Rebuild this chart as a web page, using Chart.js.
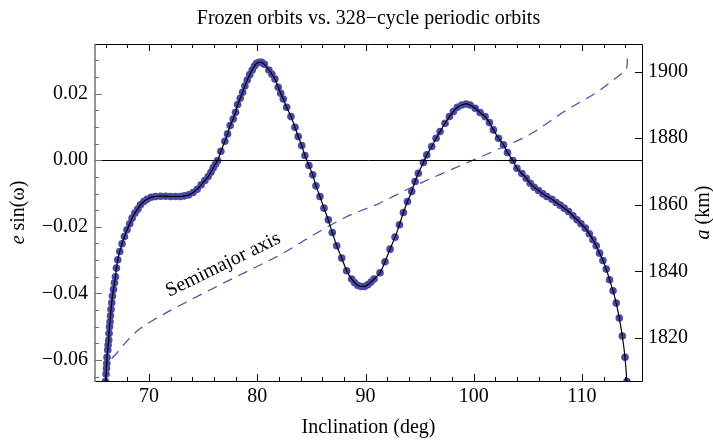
<!DOCTYPE html>
<html>
<head>
<meta charset="utf-8">
<script src="https://cdn.jsdelivr.net/npm/chart.js@4.4.1/dist/chart.umd.min.js"></script>
<style>
  html, body { margin: 0; padding: 0; background: #fff; }
  #wrap { width: 713px; height: 441px; }
</style>
</head>
<body>
<div id="wrap"><canvas id="c" width="713" height="441"></canvas></div>
<script>
// ── Data ──────────────────────────────────────────────────────
// periodic orbits (dots) / frozen-orbit curve: inclination (deg) vs e·sin(ω)
const INCL = [
  65.97, 66.02, 66.06, 66.09, 66.11, 66.18, 66.21, 66.27, 66.30, 66.34,
  66.39, 66.43, 66.48, 66.55, 66.61, 66.71, 66.80, 66.89, 66.98, 67.10,
  67.29, 67.50, 67.72, 67.96, 68.21, 68.43, 68.68, 68.95, 69.20, 69.51,
  69.81, 70.19, 70.59, 71.05, 71.52, 71.98, 72.44, 72.90, 73.27, 73.67,
  74.07, 74.44, 74.81, 75.15, 75.46, 75.71, 75.92, 76.13, 76.33, 76.63,
  77.00, 77.25, 77.49, 77.77, 77.99, 78.18, 78.42, 78.64, 78.85, 79.07,
  79.30, 79.53, 79.74, 79.94, 80.17, 80.40, 80.65, 81.07, 81.35, 81.63,
  81.93, 82.16, 82.40, 82.71, 83.11, 83.48, 83.78, 84.10, 84.40, 84.77,
  85.12, 85.42, 85.79, 86.16, 86.56, 86.93, 87.34, 87.80, 88.26, 88.72,
  89.00, 89.30, 89.60, 89.90, 90.20, 90.50, 90.79, 91.34, 91.80, 92.27,
  92.73, 93.13, 93.50, 93.87, 94.27, 94.58, 94.88, 95.35, 95.66, 96.12,
  96.52, 96.89, 97.35, 97.75, 98.12, 98.49, 98.90, 99.30, 99.67, 100.13,
  100.59, 101.05, 101.45, 101.82, 102.29, 102.75, 103.12, 103.62, 103.99, 104.45,
  104.85, 105.22, 105.59, 105.99, 106.39, 106.76, 107.22, 107.62, 107.99, 108.36,
  108.76, 109.17, 109.54, 109.91, 110.31, 110.68, 111.02, 111.32, 111.63, 111.94,
  112.25, 112.55, 112.87, 113.17, 113.45, 113.73, 113.98, 114.16
];
const ESINW = [
  -0.0665, -0.0642, -0.0625, -0.0610, -0.0592, -0.0570, -0.0555, -0.0540, -0.0520, -0.0500,
  -0.0485, -0.0467, -0.0448, -0.0428, -0.0408, -0.0388, -0.0368, -0.0350, -0.0324, -0.0299,
  -0.0274, -0.0251, -0.0229, -0.0209, -0.0191, -0.0174, -0.0159, -0.0147, -0.0134, -0.0124,
  -0.0117, -0.0111, -0.0109, -0.0108, -0.0108, -0.0109, -0.0109, -0.0109, -0.0107, -0.0104,
  -0.0097, -0.0087, -0.0074, -0.0061, -0.0049, -0.0036, -0.0023, -0.0012, -0.0001, 0.0027,
  0.0057, 0.0079, 0.0104, 0.0124, 0.0144, 0.0167, 0.0186, 0.0204, 0.0223, 0.0241,
  0.0257, 0.0271, 0.0283, 0.0291, 0.0294, 0.0294, 0.0288, 0.0271, 0.0258, 0.0244,
  0.0219, 0.0201, 0.0184, 0.0159, 0.0131, 0.0099, 0.0071, 0.0044, 0.0014, -0.0016,
  -0.0044, -0.0077, -0.0109, -0.0144, -0.0179, -0.0217, -0.0257, -0.0294, -0.0332, -0.0357,
  -0.0368, -0.0376, -0.0379, -0.0379, -0.0374, -0.0366, -0.0357, -0.0338, -0.0305, -0.0267,
  -0.0231, -0.0194, -0.0157, -0.0124, -0.0094, -0.0064, -0.0039, -0.0007, 0.0016, 0.0041,
  0.0066, 0.0086, 0.0111, 0.0131, 0.0146, 0.0159, 0.0166, 0.0169, 0.0166, 0.0156,
  0.0143, 0.0131, 0.0113, 0.0091, 0.0066, 0.0046, 0.0023, -0.0001, -0.0024, -0.0040,
  -0.0054, -0.0069, -0.0081, -0.0091, -0.0101, -0.0109, -0.0117, -0.0127, -0.0135, -0.0144,
  -0.0154, -0.0167, -0.0179, -0.0191, -0.0204, -0.0221, -0.0239, -0.0257, -0.0279, -0.0301,
  -0.0327, -0.0359, -0.0392, -0.0429, -0.0474, -0.0528, -0.0592, -0.0665
];

// semimajor axis (right axis, km)
const SMA_INCL = [66.05, 66.30, 67.00, 67.90, 69.00, 70.40, 73.20, 76.20, 79.30, 82.40,
                  85.20, 88.30, 91.30, 94.40, 97.50, 100.00, 102.10, 105.10, 108.60, 111.70,
                  112.90, 114.00, 114.16, 114.20];
const SMA_KM   = [1809.0, 1812.3, 1815.4, 1818.9, 1822.4, 1825.4, 1830.4, 1835.4, 1840.4, 1845.5,
                  1851.0, 1856.5, 1860.5, 1865.5, 1870.0, 1873.5, 1876.5, 1881.0, 1888.5, 1894.5,
                  1897.5, 1900.3, 1901.5, 1904.0];

// axes
const X_RANGE   = [65, 115.55];
const Y_RANGE   = [-0.0663, 0.0349];
const A_RANGE   = [1807.1, 1908.3];
const X_TICKS   = [70, 80, 90, 100, 110];
const X_MINOR   = [66, 68, 72, 74, 76, 78, 82, 84, 86, 88, 92, 94, 96, 98, 102, 104, 106, 108, 112, 114];
const Y_TICKS   = [-0.06, -0.04, -0.02, 0, 0.02];
const Y_MINOR   = [-0.065, -0.055, -0.05, -0.045, -0.035, -0.03, -0.025, -0.015, -0.01, -0.005,
                   0.005, 0.01, 0.015, 0.025, 0.03];
const A_TICKS   = [1820, 1840, 1860, 1880, 1900];

const TITLE     = 'Frozen orbits vs. 328\u2212cycle periodic orbits';
const X_TITLE   = 'Inclination (deg)';
const CURVE_LBL = 'Semimajor axis';
const LBL_AT    = { x: 76.85, y: -0.0314 };   // where the curve label sits (left-axis units)

// ── Style ─────────────────────────────────────────────────────
const SERIF = '"Liberation Serif", "Times New Roman", serif';
const BLUE  = '#4a4aa6';
const FS    = 20;

const pts = INCL.map((x, i) => ({ x, y: ESINW[i] }));
const sma = SMA_INCL.map((x, i) => ({ x, y: SMA_KM[i] }));

const fmtLeft = v => {
    if (Math.abs(v) < 1e-9) return '0.00';
    return (v < 0 ? '\u2212' : '') + Math.abs(v).toFixed(2);
};

const setTicks = arr => scale => { scale.ticks = arr.map(v => ({ value: v })); };

// frame, inward tick marks, zero line, titles
const decor = {
    id: 'decor',
    afterDatasetsDraw(chart) {
        const { ctx, chartArea: a, scales } = chart;
        const sx = scales.x, sy = scales.y, sa = scales.y2;
        ctx.save();

        // zero line
        const y0 = Math.round(sy.getPixelForValue(0)) + 0.5;
        ctx.strokeStyle = '#000'; ctx.lineWidth = 1;
        ctx.beginPath(); ctx.moveTo(a.left, y0); ctx.lineTo(a.right, y0); ctx.stroke();

        // ticks: bottom & top
        const tick = (x1, y1, x2, y2) => { ctx.moveTo(x1, y1); ctx.lineTo(x2, y2); };
        ctx.strokeStyle = '#000'; ctx.lineWidth = 1;
        ctx.beginPath();
        X_TICKS.forEach(v => {
            const p = Math.round(sx.getPixelForValue(v)) + 0.5;
            tick(p, a.bottom, p, a.bottom - 7);
            tick(p, a.top, p, a.top + 7);
        });
        X_MINOR.forEach(v => {
            const p = Math.round(sx.getPixelForValue(v)) + 0.5;
            tick(p, a.bottom, p, a.bottom - 4);
            tick(p, a.top, p, a.top + 4);
        });
        // right axis majors
        A_TICKS.forEach(v => {
            const p = Math.round(sa.getPixelForValue(v)) + 0.5;
            tick(a.right, p, a.right - 7, p);
        });
        ctx.stroke();

        // frame: top, right, bottom black
        ctx.beginPath();
        ctx.moveTo(a.left, a.top + 0.5); ctx.lineTo(a.right + 0.5, a.top + 0.5);
        ctx.lineTo(a.right + 0.5, a.bottom + 0.5); ctx.lineTo(a.left, a.bottom + 0.5);
        ctx.stroke();

        // left axis in grey, with its ticks
        ctx.strokeStyle = '#6f6f6f'; ctx.lineWidth = 1.5;
        ctx.beginPath();
        ctx.moveTo(a.left, a.top); ctx.lineTo(a.left, a.bottom + 1);
        ctx.stroke();
        ctx.lineWidth = 1;
        ctx.beginPath();
        Y_TICKS.forEach(v => {
            const p = Math.round(sy.getPixelForValue(v)) + 0.5;
            tick(a.left, p, a.left + 7, p);
        });
        Y_MINOR.forEach(v => {
            const p = Math.round(sy.getPixelForValue(v)) + 0.5;
            tick(a.left, p, a.left + 4, p);
        });
        ctx.stroke();

        ctx.fillStyle = '#000';
        ctx.textBaseline = 'alphabetic';

        // main title
        ctx.font = `${FS}px ${SERIF}`;
        ctx.textAlign = 'center';
        ctx.fillText(TITLE, (a.left + a.right) / 2, 24);

        // x title
        ctx.fillText(X_TITLE, (a.left + a.right) / 2, 433);

        // rotated y titles with an italic symbol
        const vTitle = (cx, parts) => {
            ctx.save();
            ctx.translate(cx, (a.top + a.bottom) / 2);
            ctx.rotate(-Math.PI / 2);
            ctx.textAlign = 'left';
            ctx.textBaseline = 'middle';
            let w = 0;
            parts.forEach(p => { ctx.font = `${p.it ? 'italic ' : ''}${FS}px ${SERIF}`; w += ctx.measureText(p.t).width; });
            let x = -w / 2;
            parts.forEach(p => {
                ctx.font = `${p.it ? 'italic ' : ''}${FS}px ${SERIF}`;
                ctx.fillText(p.t, x, 0);
                x += ctx.measureText(p.t).width;
            });
            ctx.restore();
        };
        vTitle(19, [{ t: 'e', it: true }, { t: ' sin(\u03c9)' }]);
        vTitle(704, [{ t: 'a', it: true }, { t: ' (km)' }]);

        // curve label
        ctx.save();
        ctx.translate(sx.getPixelForValue(LBL_AT.x), sy.getPixelForValue(LBL_AT.y));
        ctx.rotate(-26 * Math.PI / 180);
        ctx.font = `${FS}px ${SERIF}`;
        ctx.textAlign = 'center';
        ctx.textBaseline = 'middle';
        ctx.fillText(CURVE_LBL, 0, 0);
        ctx.restore();

        ctx.restore();
    }
};

new Chart(document.getElementById('c'), {
    type: 'scatter',
    data: {
        datasets: [
            {   // smooth frozen-orbit curve, drawn over the dots
                data: pts, showLine: true, pointRadius: 0,
                borderColor: '#000', borderWidth: 1.2,
                cubicInterpolationMode: 'monotone', order: 0,
            },
            {   // periodic orbits
                data: pts, showLine: false, pointRadius: 3.8,
                pointBackgroundColor: BLUE, pointBorderWidth: 0, order: 1,
            },
            {   // semimajor axis
                data: sma, yAxisID: 'y2', showLine: true, pointRadius: 0,
                borderColor: BLUE, borderWidth: 1.2, borderDash: [10, 7],
                cubicInterpolationMode: 'monotone', order: 2,
            },
        ],
    },
    options: {
        responsive: false, animation: false, events: [],
        layout: { padding: { top: 44, left: 0, right: 0, bottom: 0 } },
        plugins: { legend: { display: false }, tooltip: { enabled: false }, title: { display: false } },
        scales: {
            x: {
                type: 'linear', position: 'bottom', min: X_RANGE[0], max: X_RANGE[1],
                grid: { display: false, drawTicks: false }, border: { display: false },
                afterBuildTicks: setTicks(X_TICKS),
                afterFit: s => { s.height = 60; },
                ticks: { color: '#000', font: { family: SERIF, size: FS }, padding: 4, maxRotation: 0,
                         callback: v => String(v) },
            },
            y: {
                type: 'linear', position: 'left', min: Y_RANGE[0], max: Y_RANGE[1],
                grid: { display: false, drawTicks: false }, border: { display: false },
                afterBuildTicks: setTicks(Y_TICKS),
                afterFit: s => { s.width = 95; },
                ticks: { color: '#000', font: { family: SERIF, size: FS }, padding: 7, callback: fmtLeft },
            },
            y2: {
                type: 'linear', position: 'right', min: A_RANGE[0], max: A_RANGE[1],
                grid: { display: false, drawTicks: false }, border: { display: false },
                afterBuildTicks: setTicks(A_TICKS),
                afterFit: s => { s.width = 71; },
                ticks: { color: '#000', font: { family: SERIF, size: FS }, padding: 6, callback: v => String(v) },
            },
        },
    },
    plugins: [decor],
});
</script>
</body>
</html>
